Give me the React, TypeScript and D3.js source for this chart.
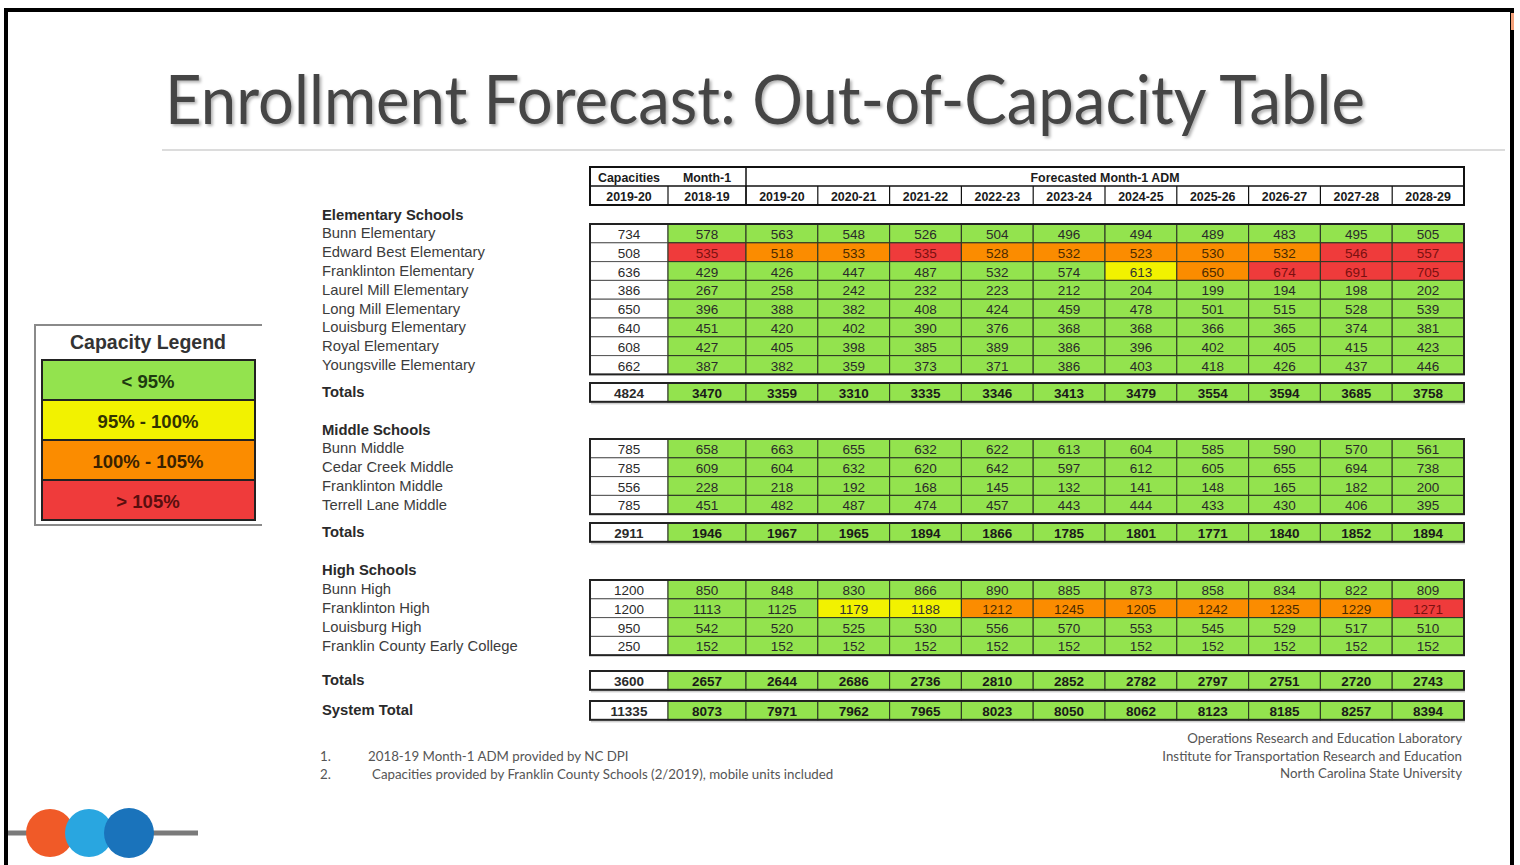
import * as d3 from "d3";
import { useEffect } from "react";

const years = ["2019-20", "2020-21", "2021-22", "2022-23", "2023-24", "2024-25", "2025-26", "2026-27", "2027-28", "2028-29"];

const elementaryNames = ["Bunn Elementary", "Edward Best Elementary", "Franklinton Elementary", "Laurel Mill Elementary", "Long Mill Elementary", "Louisburg Elementary", "Royal Elementary", "Youngsville Elementary"];
const elementaryCapacity = [734, 508, 636, 386, 650, 640, 608, 662];
const elementaryAdm = [578, 535, 429, 267, 396, 451, 427, 387];
const elementaryForecast = [
  [563, 548, 526, 504, 496, 494, 489, 483, 495, 505],
  [518, 533, 535, 528, 532, 523, 530, 532, 546, 557],
  [426, 447, 487, 532, 574, 613, 650, 674, 691, 705],
  [258, 242, 232, 223, 212, 204, 199, 194, 198, 202],
  [388, 382, 408, 424, 459, 478, 501, 515, 528, 539],
  [420, 402, 390, 376, 368, 368, 366, 365, 374, 381],
  [405, 398, 385, 389, 386, 396, 402, 405, 415, 423],
  [382, 359, 373, 371, 386, 403, 418, 426, 437, 446],
];
const elementaryTotals = [4824, 3470, 3359, 3310, 3335, 3346, 3413, 3479, 3554, 3594, 3685, 3758];

const middleNames = ["Bunn Middle", "Cedar Creek Middle", "Franklinton Middle", "Terrell Lane Middle"];
const middleCapacity = [785, 785, 556, 785];
const middleAdm = [658, 609, 228, 451];
const middleForecast = [
  [663, 655, 632, 622, 613, 604, 585, 590, 570, 561],
  [604, 632, 620, 642, 597, 612, 605, 655, 694, 738],
  [218, 192, 168, 145, 132, 141, 148, 165, 182, 200],
  [482, 487, 474, 457, 443, 444, 433, 430, 406, 395],
];
const middleTotals = [2911, 1946, 1967, 1965, 1894, 1866, 1785, 1801, 1771, 1840, 1852, 1894];

const highNames = ["Bunn High", "Franklinton High", "Louisburg High", "Franklin County Early College"];
const highCapacity = [1200, 1200, 950, 250];
const highAdm = [850, 1113, 542, 152];
const highForecast = [
  [848, 830, 866, 890, 885, 873, 858, 834, 822, 809],
  [1125, 1179, 1188, 1212, 1245, 1205, 1242, 1235, 1229, 1271],
  [520, 525, 530, 556, 570, 553, 545, 529, 517, 510],
  [152, 152, 152, 152, 152, 152, 152, 152, 152, 152],
];
const highTotals = [3600, 2657, 2644, 2686, 2736, 2810, 2852, 2782, 2797, 2751, 2720, 2743];

const systemTotals = [11335, 8073, 7971, 7962, 7965, 8023, 8050, 8062, 8123, 8185, 8257, 8394];

const legendLabels = ["< 95%", "95% - 100%", "100% - 105%", "> 105%"];
const legendColors = ["#93e34e", "#f2f200", "#fb8c00", "#ef3b3b"];
const legendText = ["#1e3a10", "#333300", "#3a2200", "#5a0e0e"];

const footnotes = ["2018-19 Month-1 ADM provided by NC DPI", "Capacities provided by Franklin County Schools (2/2019), mobile units included"];
const credits = ["Operations Research and Education Laboratory", "Institute for Transportation Research and Education", "North Carolina State University"];

const W = 1520, H = 865;
const rowH = 18.8;
const cellFont = "'Liberation Sans', Arial, sans-serif";
const calibri = "Lato, 'Open Sans', sans-serif";

const fill = d3.scaleThreshold<number, string>().domain([0.95, 1.0, 1.05]).range(legendColors);
const ink = d3.scaleThreshold<number, string>().domain([0.95, 1.0, 1.05]).range(["#2a2a2a", "#333", "#4a2a00", "#7a1010"]);

const leftCols = d3.scaleBand().domain(["cap", "adm"]).range([590, 746]);
const fcCols = d3.scaleBand().domain(years).range([746, 1464]);
const tableL = 590, tableR = 1464;

function Row({ y, cap, adm, fc, bold }: { y: number; cap: number; adm: number; fc: number[]; bold?: boolean }) {
  const vals = [adm, ...fc];
  const xs = [leftCols("adm")!, ...years.map(yr => fcCols(yr)!)];
  const ws = [leftCols.bandwidth(), ...years.map(() => fcCols.bandwidth())];
  const fw = bold ? "bold" : "normal";
  return (
    <g>
      <rect x={leftCols("cap")} y={y} width={leftCols.bandwidth()} height={rowH} fill="#fff" stroke="#555" strokeWidth={1} />
      <text x={leftCols("cap")! + leftCols.bandwidth() / 2} y={y + rowH / 2 + 1} textAnchor="middle" dominantBaseline="central"
        fontFamily={cellFont} fontSize={13.5} fontWeight={fw} fill="#2a2a2a">{cap}</text>
      {vals.map((v, i) => {
        const r = v / cap;
        return (
          <g key={i}>
            <rect x={xs[i]} y={y} width={ws[i]} height={rowH} fill={fill(r)} stroke="#2f3a26" strokeWidth={1.1} />
            <text x={xs[i] + ws[i] / 2} y={y + rowH / 2 + 1} textAnchor="middle" dominantBaseline="central"
              fontFamily={cellFont} fontSize={13.5} fontWeight={fw} fill={bold ? "#1a1a1a" : ink(r)}>{v}</text>
          </g>
        );
      })}
    </g>
  );
}

function Section({ title, labelY, top, names, caps, adms, fcs, totalsTop, totals }: any) {
  return (
    <g>
      <text x={322} y={labelY} dominantBaseline="central" fontFamily={cellFont} fontSize={14.8} fontWeight="bold" fill="#2a2a2a">{title}</text>
      {names.map((n: string, i: number) => (
        <g key={n}>
          <text x={322} y={top + i * rowH + rowH / 2} dominantBaseline="central" fontFamily={cellFont} fontSize={14.8} fill="#3c3c3c">{n}</text>
          <Row y={top + i * rowH} cap={caps[i]} adm={adms[i]} fc={fcs[i]} />
        </g>
      ))}
      <rect x={tableL} y={top} width={tableR - tableL} height={names.length * rowH} fill="none" stroke="#222" strokeWidth={2} />
      <Total label="Totals" y={totalsTop} vals={totals} />
    </g>
  );
}

function Total({ label, y, vals }: { label: string; y: number; vals: number[] }) {
  return (
    <g>
      <text x={322} y={y + rowH / 2} dominantBaseline="central" fontFamily={cellFont} fontSize={14.8} fontWeight="bold" fill="#2a2a2a">{label}</text>
      <Row y={y} cap={vals[0]} adm={vals[1]} fc={vals.slice(2)} bold />
      <rect x={tableL} y={y} width={tableR - tableL} height={rowH} fill="none" stroke="#222" strokeWidth={2} />
      <line x1={tableL + 1} x2={tableR + 1} y1={y + rowH + 2} y2={y + rowH + 2} stroke="#bbb" strokeWidth={1} />
    </g>
  );
}

export default function App() {
  useEffect(() => {
    document.body.style.margin = "0";
    document.body.style.overflow = "hidden";
  }, []);

  const hdrTop = 167, hdrMid = 186, hdrBot = 205;
  const headerCols = ["cap", "adm"];
  const band = d3.scaleBand().domain(legendLabels).range([360, 520]);

  return (
    <svg width={W} height={H} style={{ position: "absolute", left: 0, top: 0, background: "#fff" }}>
      <defs>
        <filter id="shadow" x="-5%" y="-20%" width="110%" height="140%">
          <feDropShadow dx={2} dy={2} stdDeviation={1.6} floodColor="#000" floodOpacity={0.3} />
        </filter>
      </defs>
      <rect width={W} height={H} fill="#fff" />
      <path d={`M6,${H} V10 H1512 V${H}`} fill="none" stroke="#000" strokeWidth={4} />
      <rect x={1511} y={13} width={3} height={17} fill="#f4a27a" />

      <text x={165} y={124} fontFamily={calibri} fontSize={67} fill="#454545" textLength={1200} lengthAdjust="spacingAndGlyphs" filter="url(#shadow)">
        Enrollment Forecast: Out-of-Capacity Table
      </text>
      <line x1={162} x2={1505} y1={150} y2={150} stroke="#dcdcdc" strokeWidth={2} />

      {/* header */}
      <g fontFamily={cellFont} fontSize={12.4} fontWeight="bold" fill="#1a1a1a" textAnchor="middle">
        <rect x={tableL} y={hdrTop} width={tableR - tableL} height={hdrBot - hdrTop} fill="#fff" stroke="#111" strokeWidth={2} />
        <line x1={tableL} x2={tableR} y1={hdrMid} y2={hdrMid} stroke="#111" strokeWidth={1.5} />
        <line x1={fcCols.range()[0]} x2={fcCols.range()[0]} y1={hdrTop} y2={hdrBot} stroke="#111" strokeWidth={1.5} />
        {headerCols.map(c => <line key={c} x1={leftCols(c)! + leftCols.bandwidth()} x2={leftCols(c)! + leftCols.bandwidth()} y1={hdrMid} y2={hdrBot} stroke="#111" strokeWidth={1.2} />)}
        {years.map(yr => <line key={yr} x1={fcCols(yr)! + fcCols.bandwidth()} x2={fcCols(yr)! + fcCols.bandwidth()} y1={hdrMid} y2={hdrBot} stroke="#111" strokeWidth={1.2} />)}
        <text x={leftCols("cap")! + leftCols.bandwidth() / 2} y={(hdrTop + hdrMid) / 2 + 1} dominantBaseline="central">Capacities</text>
        <text x={leftCols("adm")! + leftCols.bandwidth() / 2} y={(hdrTop + hdrMid) / 2 + 1} dominantBaseline="central">Month-1</text>
        <text x={(fcCols.range()[0] + tableR) / 2} y={(hdrTop + hdrMid) / 2 + 1} dominantBaseline="central">Forecasted Month-1 ADM</text>
        <text x={leftCols("cap")! + leftCols.bandwidth() / 2} y={(hdrMid + hdrBot) / 2 + 1} dominantBaseline="central">2019-20</text>
        <text x={leftCols("adm")! + leftCols.bandwidth() / 2} y={(hdrMid + hdrBot) / 2 + 1} dominantBaseline="central">2018-19</text>
        {years.map(yr => (
          <text key={yr} x={fcCols(yr)! + fcCols.bandwidth() / 2} y={(hdrMid + hdrBot) / 2 + 1} dominantBaseline="central">{yr}</text>
        ))}
      </g>

      <Section title="Elementary Schools" labelY={215} top={224} names={elementaryNames} caps={elementaryCapacity}
        adms={elementaryAdm} fcs={elementaryForecast} totalsTop={383} totals={elementaryTotals} />
      <Section title="Middle Schools" labelY={430} top={439} names={middleNames} caps={middleCapacity}
        adms={middleAdm} fcs={middleForecast} totalsTop={523} totals={middleTotals} />
      <Section title="High Schools" labelY={570} top={580} names={highNames} caps={highCapacity}
        adms={highAdm} fcs={highForecast} totalsTop={671} totals={highTotals} />
      <Total label="System Total" y={701} vals={systemTotals} />

      {/* legend */}
      <g>
        <path d="M262,325 H35 V525 H262" fill="none" stroke="#8a8a8a" strokeWidth={2} />
        <text x={148} y={342} textAnchor="middle" dominantBaseline="central" fontFamily={cellFont} fontSize={19.5} fontWeight="bold" fill="#333">Capacity Legend</text>
        {legendLabels.map((l, i) => (
          <g key={l}>
            <rect x={42} y={band(l)} width={213} height={band.bandwidth()} fill={legendColors[i]} stroke="#222" strokeWidth={2} />
            <text x={148} y={band(l)! + band.bandwidth() / 2 + 1} textAnchor="middle" dominantBaseline="central"
              fontFamily={cellFont} fontSize={18.5} fontWeight="bold" fill={legendText[i]}>{l}</text>
          </g>
        ))}
      </g>

      {/* footnotes */}
      <g fontFamily={calibri} fontSize={13.3} fill="#555">
        {footnotes.map((f, i) => (
          <g key={f}>
            <text x={320} y={761 + i * 17.5}>{i + 1}.</text>
            <text x={368 + i * 4} y={761 + i * 17.5}>{f}</text>
          </g>
        ))}
        {credits.map((c, i) => (
          <text key={c} x={1462} y={743 + i * 17.5} textAnchor="end">{c}</text>
        ))}
      </g>

      {/* logo */}
      <line x1={8} x2={198} y1={833} y2={833} stroke="#7a7a7a" strokeWidth={5} />
      <circle cx={50} cy={833} r={24} fill="#f05a28" />
      <circle cx={89} cy={833} r={24} fill="#29a6e0" />
      <circle cx={129} cy={833} r={25} fill="#1a73bb" />
    </svg>
  );
}
